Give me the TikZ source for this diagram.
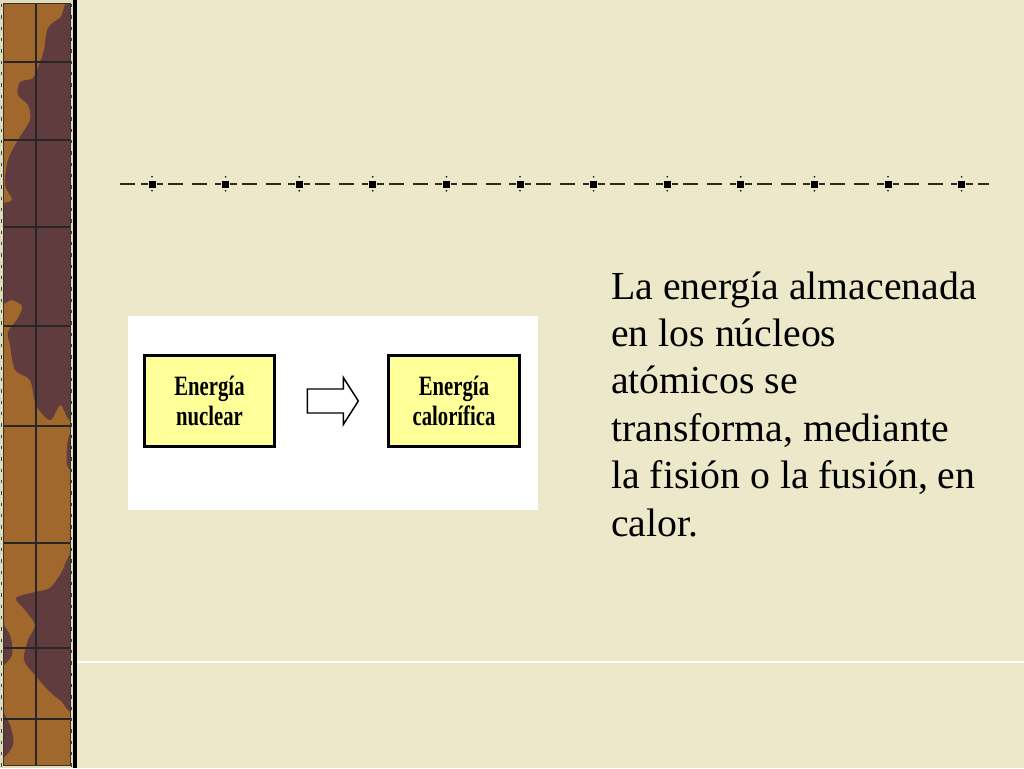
\documentclass[tikz,border=0pt]{standalone}
\usepackage{fontspec}
\setmainfont{Liberation Serif}
\newfontfamily\boxfont{Liberation Serif}[FakeStretch=0.74]
\usetikzlibrary{calc}
\definecolor{bg}{RGB}{236,232,201}
\definecolor{strip}{RGB}{160,104,44}
\definecolor{patch}{RGB}{96,60,62}
\definecolor{edge}{RGB}{226,220,184}
\definecolor{dashc}{RGB}{45,42,25}
\definecolor{boxy}{RGB}{255,255,153}
\tikzset{
  ebox/.style={draw=black, line width=2.25pt, fill=boxy, minimum width=97.9pt, minimum height=68.25pt,
    inner sep=0pt, align=center, font=\boxfont\bfseries\fontsize{21}{22.5}\selectfont},
  dashline/.style={draw=dashc, line width=1.5pt},
  gridline/.style={draw=black!85, line width=0.9pt},
  maintext/.style={anchor=base west, align=left, inner sep=0pt, font=\fontsize{29.8}{35.55}\selectfont}
}
\begin{document}
\begin{tikzpicture}[x=0.75pt,y=-0.75pt]
\fill[bg] (0,0) rectangle (1024,768);
\useasboundingbox (0,0) rectangle (1024,768);
% left decorative strip
\begin{scope}
\clip (3,3) rectangle (70,765);
\fill[strip] (0,0) rectangle (73,768);
\fill[patch] plot[smooth cycle] coordinates {(76,10) (60,18) (48,28) (44,50) (40,62) (33,78) (20,82) (18,95) (28,105) (30,120) (18,140) (8,160) (5,185) (12,200) (0,212) (0,298) (12,300) (22,306) (18,318) (8,332) (10,345) (15,370) (30,380) (36,405) (50,420) (60,405) (76,395)};
\fill[patch] plot[smooth cycle] coordinates {(76,555) (60,575) (50,588) (35,592) (16,598) (25,610) (35,625) (28,640) (24,660) (35,675) (48,690) (60,700) (76,705)};
\fill[patch] plot[smooth cycle] coordinates {(0,712) (10,725) (13,745) (0,758)};
\fill[patch] plot[smooth cycle] coordinates {(0,625) (10,635) (12,655) (0,665)};
\fill[patch] plot[smooth cycle] coordinates {(76,425) (68,440) (67,465) (76,470)};
\end{scope}
\draw[gridline] (36,3) -- (36,765);
\foreach \y in {62,140,227,326,426,543,648,719} \draw[gridline] (3,\y) -- (70,\y);
\fill[edge] (0,0) rectangle (3,768);
\fill[edge] (70,0) rectangle (73,768);
\fill[edge] (0,0) rectangle (73,3);
\fill[edge] (0,765) rectangle (73,768);
\draw[black!75, line width=1.2pt, dash pattern=on 2.5pt off 6pt] (1.5,4) -- (1.5,768);
\draw[black!75, line width=1.2pt, dash pattern=on 2.5pt off 6pt] (71.5,4) -- (71.5,768);
\draw[black!80, line width=0.6pt] (3,3) rectangle (70,765);
\fill[black] (73,0) rectangle (77,768);
% white separator line
\draw[white, line width=1pt] (77,662) -- (1024,662);
% dashed ornament line
\draw[dashline] (120,184) -- (135,184);
\foreach \i in {0,...,11}{
  \pgfmathsetmacro\c{152+73.6*\i}
  \draw[dashline] ({\c-11},184) -- ({\c+11},184);
  \ifnum\i<11
    \draw[dashline] ({\c+16},184) -- ({\c+31},184);
    \draw[dashline] ({\c+40},184) -- ({\c+55},184);
  \else
    \draw[dashline] ({\c+16},184) -- ({\c+27},184);
  \fi
  \fill[black, draw=bg, line width=0.6pt] ({\c-4},180) rectangle ({\c+4},188.5);
  \fill[black] (\c,176.8) circle (0.9);
  \fill[black] (\c,190.8) circle (0.9);
}
% embedded picture
\fill[white] (128,316) rectangle (538,510);
\node[ebox] (nuc) at (209.5,401) {Energía\\nuclear};
\node[ebox] (cal) at (454,401) {Energía\\calorífica};
\coordinate (m) at ($(nuc.center)!0.5!(cal.center)$);
\coordinate (m) at ([xshift=0.8pt]m);
\draw[black, line width=1.1pt, fill=white, line join=miter]
  ([shift={(-25.5,-12)}]m) -- ([shift={(10.5,-12)}]m) -- ([shift={(10.5,-23.5)}]m)
  -- ([shift={(25.5,0)}]m) -- ([shift={(10.5,23.5)}]m) -- ([shift={(10.5,12)}]m)
  -- ([shift={(-25.5,12)}]m) -- cycle;
% main text
\node[maintext] (txt) at (611,536) {La energía almacenada\\en los núcleos\\atómicos se\\transforma, mediante\\la fisión o la fusión, en\\calor.};
\end{tikzpicture}
\end{document}
